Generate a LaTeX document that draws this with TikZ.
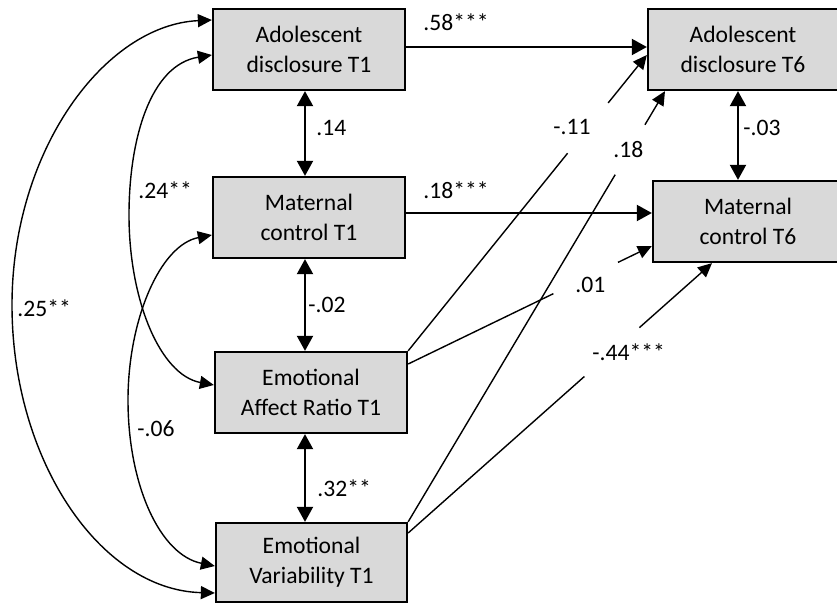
\documentclass[tikz,border=0pt]{standalone}
\usepackage{fontspec}
\setmainfont{Carlito}
\usetikzlibrary{arrows.meta,calc}
\definecolor{boxgray}{HTML}{D9D9D9}
\begin{document}
\begin{tikzpicture}[x=0.5pt,y=-0.5pt,
  box/.style={draw=black, line width=1.15pt, fill=boxgray, align=center, inner sep=0pt, font=\fontsize{11.8}{15}\selectfont},
  lbl/.style={anchor=west, inner sep=0pt, font=\fontsize{11.8}{15}\selectfont},
  bigtip/.tip={Triangle[length=7.5pt,width=8pt]},
  smalltip/.tip={Triangle[length=7pt,width=6.5pt]},
  harrow/.style={line width=1pt, -bigtip},
  varrow/.style={line width=1pt, bigtip-bigtip},
  curv/.style={line width=0.7pt, smalltip-smalltip},
  dline/.style={line width=0.7pt},
  darrow/.style={line width=0.7pt, -smalltip}
]
\useasboundingbox (0,0) rectangle (837,604);

% boxes
\node[box, minimum width=96pt, minimum height=40.5pt] (a1) at (309,49.5) {Adolescent\\disclosure T1};
\node[box, minimum width=96pt, minimum height=40.5pt] (m1) at (309,217.5) {Maternal\\control T1};
\node[box, minimum width=96pt, minimum height=40.5pt] (e1) at (311,392.5) {Emotional\\Affect Ratio T1};
\node[box, minimum width=95.5pt, minimum height=39.5pt] (v1) at (311.5,562.5) {Emotional\\Variability T1};
\node[box, minimum width=95pt, minimum height=40.5pt] (a6) at (743,49.5) {Adolescent\\disclosure T6};
\node[box, minimum width=95pt, minimum height=40.5pt] (m6) at (748,221.5) {Maternal\\control T6};

% horizontal paths
\draw[harrow] (a1.east |- 0,47) -- (a6.west |- 0,47);
\draw[harrow] (m1.east |- 0,213) -- (m6.west |- 0,213);

% vertical correlations
\draw[varrow] (a1.south -| 305,0) -- (m1.north -| 305,0);
\draw[varrow] (m1.south -| 305,0) -- (e1.north -| 305,0);
\draw[varrow] (e1.south -| 305,0) -- (v1.north -| 305,0);
\draw[varrow] (a6.south -| 738,0) -- (m6.north -| 738,0);

% left curved correlations
\draw[curv] (a1.west |- 0,20) .. controls (105,25) and (12,150) .. (12,305)
  .. controls (12,460) and (100,590) .. (v1.west |- 0,593);
\draw[curv] (a1.west |- 0,55) .. controls (150,65) and (129,140) .. (129,215)
  .. controls (129,300) and (160,375) .. (e1.west |- 0,385);
\draw[curv] (m1.west |- 0,235) .. controls (160,245) and (128,320) .. (128,400)
  .. controls (128,485) and (160,555) .. (v1.west |- 0,566);

% diagonal paths (with gaps for labels)
\coordinate (s11) at (e1.north east);
\coordinate (t11) at (a6.west |- 0,55);
\draw[dline] (s11) -- ($(s11)!0.668!(t11)$);
\draw[darrow] ($(s11)!0.838!(t11)$) -- (t11);

\coordinate (s18) at (v1.north east);
\coordinate (t18) at (a6.south -| 665,0);
\draw[dline] (s18) -- ($(s18)!0.806!(t18)$);
\draw[darrow] ($(s18)!0.922!(t18)$) -- (t18);

\coordinate (s01) at (e1.east |- 0,364);
\coordinate (t01) at (m6.west |- 0,246);
\draw[dline] (s01) -- ($(s01)!0.596!(t01)$);
\draw[darrow] ($(s01)!0.861!(t01)$) -- (t01);

\coordinate (s44) at (v1.east |- 0,533);
\coordinate (t44) at (m6.south -| 712,0);
\draw[dline] (s44) -- ($(s44)!0.580!(t44)$);
\draw[darrow] ($(s44)!0.761!(t44)$) -- (t44);

% labels
\node[lbl] (l58) at (423,22) {.58***};
\node[lbl] (l18a) at (423,190) {.18***};
\node[lbl] (l14) at (316,128) {.14};
\node[lbl] (l02) at (308,305) {-.02};
\node[lbl] (l32) at (317,488) {.32**};
\node[lbl] (l03) at (743,128) {-.03};
\node[lbl] (l25) at (17,308) {.25**};
\node[lbl] (l24) at (138,190) {.24**};
\node[lbl] (l06) at (137,429) {-.06};
\node[lbl] (l11) at (553,127) {-.11};
\node[lbl] (l18b) at (613,150) {.18};
\node[lbl] (l01) at (575,285) {.01};
\node[lbl] (l44) at (592,352) {-.44***};
\end{tikzpicture}
\end{document}
